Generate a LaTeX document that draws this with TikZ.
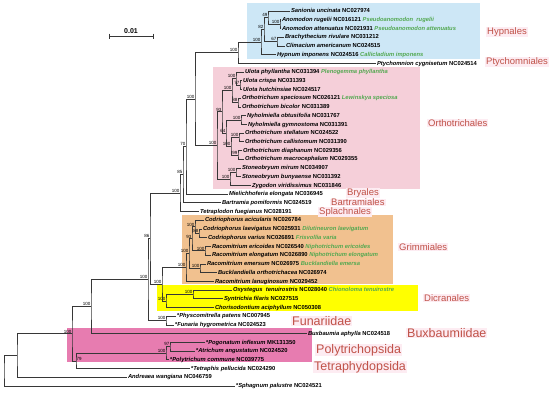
\documentclass[tikz,border=0pt]{standalone}
\usepackage{fontspec}
\usetikzlibrary{calc}
\newfontfamily\arial{Liberation Sans}

\definecolor{hypbox}{RGB}{205,231,246}
\definecolor{orthbox}{RGB}{245,207,217}
\definecolor{grimbox}{RGB}{241,193,143}
\definecolor{dicrbox}{RGB}{255,255,0}
\definecolor{polybox}{RGB}{231,124,176}
\definecolor{cladered}{RGB}{192,82,72}
\definecolor{labelbg}{RGB}{253,236,242}
\definecolor{altgreen}{RGB}{82,168,80}
\definecolor{branchgray}{RGB}{55,55,55}

\newcommand{\spn}[1]{\textit{#1}}
\newcommand{\altn}[1]{\textcolor{altgreen}{\textit{#1}}}

% leaf: name, x, row, text
\newcommand{\leaf}[4]{\node[leaf] (#1) at (#2,{11+8.72*#3}) {#4};}
% clade: name, x, first child, second child, support
\newcommand{\clade}[5]{%
  \coordinate (#1m) at ($(#3.center)!0.5!(#4.center)$);
  \path let \p1=(#1m) in coordinate (#1) at (#2pt,\y1);
  \draw[branch] (#3) -| (#1) |- (#4);
  \ifx&#5&\else\node[boot] (#1b) at (#1) {#5};\fi}

\begin{document}
\begin{tikzpicture}[x=1pt, y=-1pt,
    leaf/.style={anchor=west, inner xsep=0.8pt, inner ysep=0pt, text height=4.6pt, text depth=1.2pt,
      font=\arial\bfseries\fontsize{5.8}{7}\selectfont},
    boot/.style={anchor=south east, inner sep=0.5pt, font=\arial\fontsize{4.5}{5}\selectfont},
    branch/.style={draw=branchgray, line width=0.7pt},
    order/.style={anchor=west, inner xsep=1pt, inner ysep=0.3pt, fill=labelbg, text=cladered,
      font=\arial\fontsize{9.5}{11}\selectfont},
    bigorder/.style={order, font=\arial\fontsize{12.5}{14}\selectfont}]

\useasboundingbox (0,0) rectangle (550,392);

% coloured clades
\fill[hypbox] (247,3) rectangle (480,59);
\fill[orthbox] (213,67) rectangle (420,189);
\fill[grimbox] (182,215) rectangle (393,284);
\fill[dicrbox] (157,285) rectangle (418,311);
\fill[polybox] (67,328) rectangle (312,362);

% scale bar
\coordinate (sbL) at (109,36);
\coordinate (sbR) at (153,36);
\draw[branch] ([yshift=2.5pt]sbL) -- ([yshift=-2.5pt]sbL);
\draw[branch] ([yshift=2.5pt]sbR) -- ([yshift=-2.5pt]sbR);
\draw[branch] (sbL) -- (sbR);
\node[font=\arial\bfseries\fontsize{7}{8}\selectfont, inner sep=0.5pt, anchor=south] (sbT) at ($(sbL)!0.5!(sbR)+(0,-2)$) {0.01};

% taxa
\leaf{sanio}{290}{0}{\spn{Sanionia uncinata} NC027974}
\leaf{anrug}{281}{1}{\spn{Anomodon rugelii} NC016121 \altn{Pseudoanomodon\ \ rugelii}}
\leaf{anatt}{281}{2}{\spn{Anomodon attenuatus} NC021931 \altn{Pseudoanomodon attenuatus}}
\leaf{brach}{284}{3}{\spn{Brachythecium rivulare} NC031212}
\leaf{clima}{285}{4}{\spn{Climacium americanum} NC024515}
\leaf{hypnu}{276}{5}{\spn{Hypnum imponens} NC024516 \altn{Callicladium imponens}}
\leaf{ptych}{376}{6}{\spn{Ptychomnion cygnisetum} NC024514}
\leaf{ulphy}{244}{7}{\spn{Ulota phyllantha} NC031394 \altn{Plenogemma phyllantha}}
\leaf{ulcri}{242}{8}{\spn{Ulota crispa} NC031393}
\leaf{ulhut}{242}{9}{\spn{Ulota hutchinsiae} NC024517}
\leaf{orspe}{241}{10}{\spn{Orthotrichum speciosum} NC026121 \altn{Lewinskya speciosa}}
\leaf{orbic}{241}{11}{\spn{Orthotrichum bicolor} NC031389}
\leaf{nyobt}{246}{12}{\spn{Nyholmiella obtusifolia} NC031767}
\leaf{nygym}{247}{13}{\spn{Nyholmiella gymnostoma} NC031391}
\leaf{orste}{244}{14}{\spn{Orthotrichum stellatum} NC024522}
\leaf{orcal}{244}{15}{\spn{Orthotrichum callistomum} NC031390}
\leaf{ordia}{242}{16}{\spn{Orthotrichum diaphanum} NC029356}
\leaf{ormac}{244}{17}{\spn{Orthotrichum macrocephalum} NC029355}
\leaf{stmir}{241}{18}{\spn{Stoneobryum mirum} NC034907}
\leaf{stbun}{241}{19}{\spn{Stoneobryum bunyaense} NC031392}
\leaf{zygod}{251}{20}{\spn{Zygodon viridissimus} NC031846}
\leaf{mieli}{228}{21}{\spn{Mielichhoferia elongata} NC036945}
\leaf{bartr}{221}{22}{\spn{Bartramia pomiformis} NC024519}
\leaf{tetpl}{199}{23}{\spn{Tetraplodon fuegianus} NC028191}
\leaf{coaci}{204}{24}{\spn{Codriophorus acicularis} NC026784}
\leaf{colae}{202}{25}{\spn{Codriophorus laevigatus} NC025931 \altn{Dilutineuron laevigatum}}
\leaf{covar}{207}{26}{\spn{Codriophorus varius} NC026891 \altn{Frisvollia varia}}
\leaf{raeri}{211}{27}{\spn{Racomitrium ericoides} NC026540 \altn{Niphotrichum ericoides}}
\leaf{raelo}{211}{28}{\spn{Racomitrium elongatum} NC026890 \altn{Niphotrichum elongatum}}
\leaf{raeme}{206}{29}{\spn{Racomitrium emersum} NC026975 \altn{Bucklandiella emersa}}
\leaf{buort}{217}{30}{\spn{Bucklandiella orthotrichacea} NC026974}
\leaf{ralan}{214}{31}{\spn{Racomitrium lanuginosum} NC029452}
\leaf{oxyst}{232}{32}{\spn{Oxystegus\ \ tenuirostris} NC028040 \altn{Chionoloma tenuirostre}}
\leaf{syntr}{223}{33}{\spn{Syntrichia filaris} NC027515}
\leaf{choris}{214}{34}{\spn{Chorisodontium aciphyllum} NC050308}
\leaf{physc}{176}{35}{*\spn{Physcomitrella patens} NC007945}
\leaf{funar}{174}{36}{*\spn{Funaria hygrometrica} NC024523}
\leaf{buxba}{307}{37}{\spn{Buxbaumia aphylla} NC024518}
\leaf{pogon}{205}{38}{*\spn{Pogonatum inflexum} MK131350}
\leaf{atric}{195}{39}{*\spn{Atrichum angustatum} NC024520}
\leaf{polyt}{169}{40}{*\spn{Polytrichum commune} NC039775}
\leaf{tetra}{190}{41}{*\spn{Tetraphis pellucida} NC024290}
\leaf{andre}{127}{42}{\spn{Andreaea wangiana} NC046759}
\leaf{sphag}{235}{43}{*\spn{Sphagnum palustre} NC024521}

% Hypnales + Ptychomniales
\clade{Nanom}{280}{anrug}{anatt}{100}
\clade{N49}{268}{sanio}{Nanom}{49}
\clade{N67}{277}{brach}{clima}{67}
\clade{N82}{264}{N49}{N67}{82}
\clade{Nhyp}{261}{N82}{hypnu}{100}
\clade{NHP}{238}{Nhyp}{ptych}{100}

% Orthotrichales
\clade{N77}{240}{ulcri}{ulhut}{77}
\clade{Nul}{236}{ulphy}{N77}{100}
\clade{N88}{238}{orspe}{orbic}{88}
\clade{Nulo}{232}{Nul}{N88}{100}
\clade{Nnyh}{241}{nyobt}{nygym}{100}
\clade{Nstc}{239}{orste}{orcal}{100}
\clade{Ndia}{238}{ordia}{ormac}{99}
\clade{Nsd}{231}{Nstc}{Ndia}{100}
\clade{N64}{226}{Nnyh}{Nsd}{64}
\clade{N93}{222}{Nulo}{N64}{93}
\clade{Nsto}{236}{stmir}{stbun}{100}
\clade{Nsz}{230}{Nsto}{zygod}{100}
\clade{Northo}{217}{N93}{Nsz}{100}

% rest of Bryidae
\clade{N195}{195}{NHP}{Northo}{100}
\clade{N70}{186}{N195}{mieli}{70}
\clade{N85}{183}{N70}{bartr}{85}
\clade{N100}{180}{N85}{tetpl}{100}

% Grimmiales
\clade{Ncod2}{199}{colae}{covar}{88}
\clade{Ncod}{195}{coaci}{Ncod2}{100}
\clade{Nnip}{205}{raeri}{raelo}{100}
\clade{N93g}{192}{Ncod}{Nnip}{93}
\clade{Nbuck}{200}{raeme}{buort}{100}
\clade{Ngr2}{189}{N93g}{Nbuck}{100}
\clade{Ngrim}{186}{Ngr2}{ralan}{100}

% Dicranales and backbone
\clade{Noxy}{193}{oxyst}{syntr}{100}
\clade{Ndic}{166}{Noxy}{choris}{100}
\clade{Ndicr}{162}{Ngrim}{Ndic}{100}
\clade{N86}{150}{N100}{Ndicr}{86}
\clade{Nfun}{166}{physc}{funar}{100}
\clade{Nbryo}{148}{N86}{Nfun}{100}
\clade{Nbryop}{91}{Nbryo}{buxba}{100}
\clade{Npa}{170}{pogon}{atric}{97}
\clade{Npol}{166}{Npa}{polyt}{100}
\clade{Npt}{76}{Npol}{tetra}{}
\node[boot, anchor=south west] (Nptb) at (Npt) {79};
\clade{N72}{72}{Nbryop}{Npt}{100}
\clade{Nand}{17}{N72}{andre}{}
\clade{Nroot}{4}{Nand}{sphag}{}

% order names
\node[order] (lHyp) at (486,32) {Hypnales};
\node[order] (lPty) at (485,62) {Ptychomniales};
\node[order] (lOrt) at (427,123) {Orthotrichales};
\node[order] (lBry) at (346,193) {Bryales};
\node[order] (lBar) at (330,202.5) {Bartramiales};
\node[order] (lSpl) at (318,212) {Splachnales};
\node[order] (lGri) at (398,247) {Grimmiales};
\node[order] (lDic) at (423,298) {Dicranales};
\node[bigorder] (lFun) at (291,321) {Funariidae};
\node[bigorder] (lBux) at (406,333) {Buxbaumiidae};
\node[bigorder] (lPol) at (315,350) {Polytrichopsida};
\node[bigorder] (lTet) at (313,367) {Tetraphydopsida};

\end{tikzpicture}
\end{document}
